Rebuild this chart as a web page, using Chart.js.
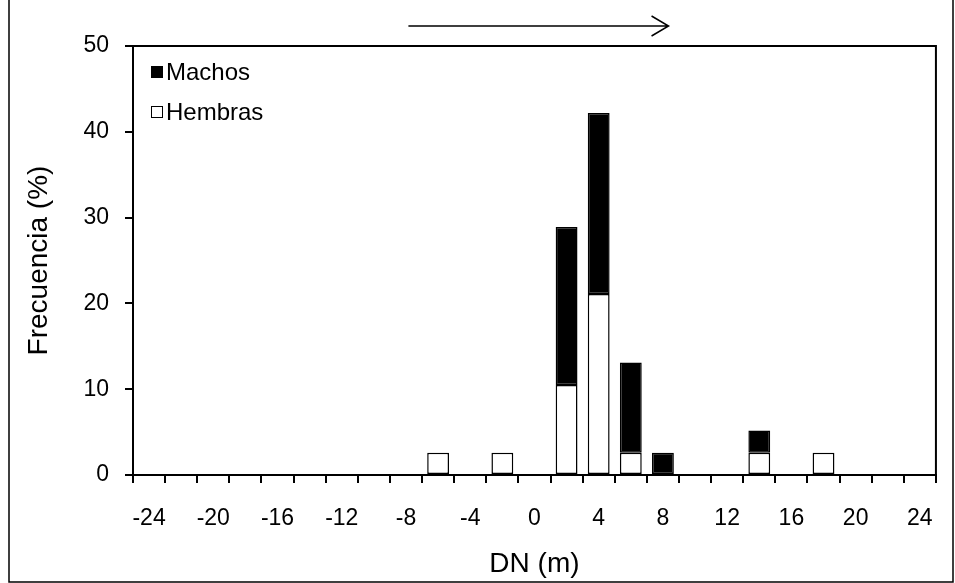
<!DOCTYPE html>
<html>
<head>
<meta charset="utf-8">
<script src="https://cdn.jsdelivr.net/npm/chart.js@4"></script>
<style>
  html, body { margin: 0; padding: 0; background: #fff; }
  #wrap { position: relative; width: 955px; height: 583px; }
</style>
</head>
<body>
<div id="wrap"><canvas id="myChart"></canvas></div>
<script>
// clases de DN (m), cada 2 m
const clases = ['-24','-22','-20','-18','-16','-14','-12','-10','-8','-6','-4','-2','0',
                '2','4','6','8','10','12','14','16','18','20','22','24'];
// frecuencia (%) por sexo
const hembras = [null,null,null,null,null,null,null,null,null,2.6,null,2.6,null,
                 10.5,21.1,2.6,null,null,null,2.6,null,2.6,null,null,null];
const machos  = [null,null,null,null,null,null,null,null,null,null,null,null,null,
                 18.4,21.1,10.5,2.6,null,null,2.6,null,null,null,null,null];

const fuente = 'Liberation Sans, Arial, sans-serif';

// marco del grafico, recuadro del area de trazado, leyenda y flecha
const extras = {
  id: 'extras',
  afterDraw(chart) {
    const ctx = chart.ctx;
    const a = chart.chartArea;
    const W = chart.width, H = chart.height;
    ctx.save();
    ctx.strokeStyle = '#000';

    // marco exterior
    ctx.lineWidth = 1.5;
    ctx.beginPath();
    ctx.moveTo(9, 0); ctx.lineTo(9, H - 1);
    ctx.lineTo(W - 2, H - 1); ctx.lineTo(W - 2, 0);
    ctx.stroke();

    // lados superior y derecho del area
    ctx.lineWidth = 2;
    ctx.beginPath();
    ctx.moveTo(a.left - 8, a.top); ctx.lineTo(a.right, a.top); ctx.lineTo(a.right, a.bottom);
    ctx.stroke();

    // leyenda
    const items = [
      {txt: 'Machos', fill: '#000'},
      {txt: 'Hembras', fill: '#fff'}
    ];
    ctx.font = '24px ' + fuente;
    ctx.textBaseline = 'middle';
    items.forEach((it, i) => {
      const y = a.top + 26 + i * 40;
      ctx.fillStyle = it.fill;
      ctx.fillRect(a.left + 18, y - 6, 12, 12);
      ctx.lineWidth = 1;
      ctx.strokeRect(a.left + 18.5, y - 5.5, 11, 11);
      ctx.fillStyle = '#000';
      ctx.fillText(it.txt, a.left + 33, y + 1);
    });

    // flecha
    const x0 = a.left + 0.343 * (a.right - a.left);
    const x1 = a.left + 0.667 * (a.right - a.left);
    const yf = a.top - 20;
    ctx.lineWidth = 1.5;
    ctx.beginPath();
    ctx.moveTo(x0, yf); ctx.lineTo(x1, yf);
    ctx.moveTo(x1 - 17, yf - 10); ctx.lineTo(x1, yf); ctx.lineTo(x1 - 17, yf + 10);
    ctx.stroke();
    ctx.restore();
  }
};

new Chart(document.getElementById('myChart'), {
  type: 'bar',
  data: {
    labels: clases,
    datasets: [
      {
        label: 'Hembras',
        data: hembras,
        backgroundColor: '#ffffff',
        borderColor: '#000000',
        borderWidth: 1.5,
        borderSkipped: false
      },
      {
        label: 'Machos',
        data: machos,
        backgroundColor: '#000000',
        borderColor: '#000000',
        borderWidth: 1.5,
        borderSkipped: false
      }
    ]
  },
  options: {
    responsive: true,
    maintainAspectRatio: false,
    animation: false,
    events: [],
    layout: { padding: { top: 46, right: 17, left: 0, bottom: 0 } },
    datasets: { bar: { categoryPercentage: 1, barPercentage: 0.68 } },
    plugins: { legend: { display: false }, tooltip: { enabled: false } },
    scales: {
      x: {
        stacked: true,
        offset: true,
        afterFit: s => { s.height = 108; },
        grid: { drawOnChartArea: false, offset: true, color: '#000', lineWidth: 2, tickLength: 8 },
        border: { color: '#000', width: 2 },
        ticks: {
          autoSkip: false, maxRotation: 0, color: '#000', padding: 22,
          font: { family: fuente, size: 23 },
          callback: function(v, i) { return i % 2 === 0 ? this.getLabelForValue(v) : ''; }
        },
        title: {
          display: true, text: 'DN (m)', color: '#000',
          font: { family: fuente, size: 28 }, padding: { top: 0, bottom: 2 }
        }
      },
      y: {
        stacked: true,
        min: 0, max: 50,
        afterFit: s => { s.width = 133; },
        grid: { drawOnChartArea: false, color: '#000', lineWidth: 2, tickLength: 8 },
        border: { color: '#000', width: 2 },
        ticks: {
          stepSize: 10, color: '#000', padding: 16,
          font: { family: fuente, size: 23 }
        },
        title: {
          display: true, text: 'Frecuencia (%)', color: '#000',
          font: { family: fuente, size: 28 }, padding: { top: 22, bottom: 0 }
        }
      }
    }
  },
  plugins: [extras]
});
</script>
</body>
</html>
